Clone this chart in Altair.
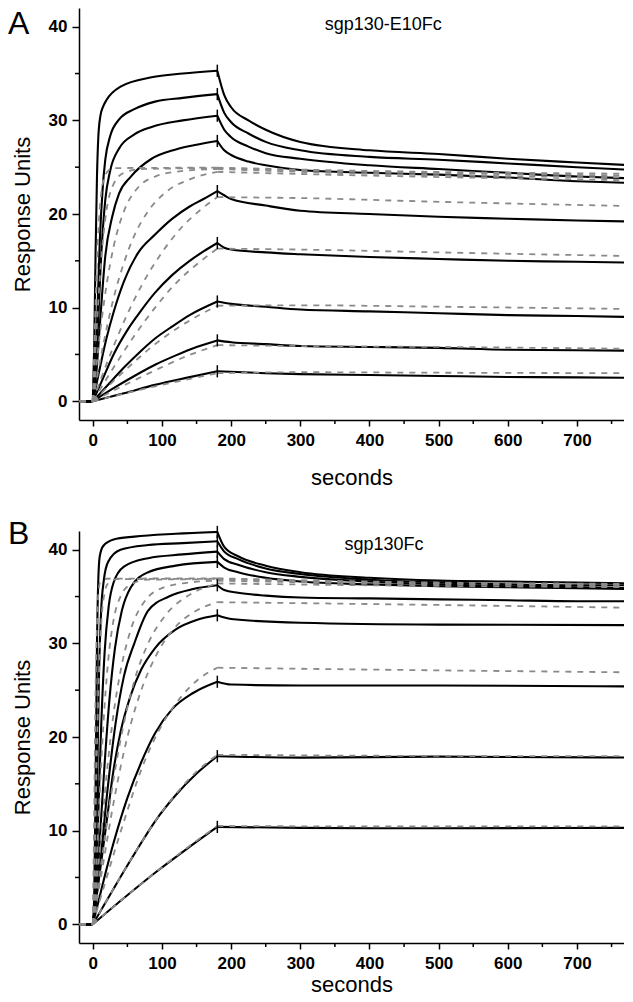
import altair as alt
import pandas as pd

# ---------------- Panel A : sgp130-E10Fc ----------------
A_BLACK_ASSOC = [
    [(-19, 0), (0, 0), (2, 6), (4, 16), (6, 24), (8, 28.3), (11, 30.5), (15, 31.5), (20, 32.2), (40, 33.6), (85, 34.6), (130, 35.0), (180, 35.3)],
    [(-19, 0), (0, 0), (3, 3), (6, 8), (10, 17), (14, 22.5), (18, 25.8), (25, 28.3), (38, 30.1), (60, 31.2), (90, 32.0), (130, 32.4), (180, 32.8)],
    [(-19, 0), (0, 0), (4, 4), (8, 9), (11, 14), (18, 21.5), (25, 24.6), (38, 27.0), (60, 28.5), (85, 29.3), (130, 30.0), (180, 30.5)],
    [(-19, 0), (0, 0), (5, 3), (10, 8), (18, 15.5), (28, 19.7), (38, 22.2), (55, 24.0), (85, 25.9), (120, 26.9), (150, 27.4), (180, 27.8)],
    [(-19, 0), (0, 0), (10, 3.5), (20, 6.8), (30, 9.5), (45, 12.8), (65, 15.8), (90, 17.8), (115, 19.5), (140, 20.8), (160, 21.6), (180, 22.45)],
    [(-19, 0), (0, 0), (15, 2.5), (30, 5.0), (50, 7.6), (65, 9.2), (90, 11.6), (115, 13.5), (140, 15.0), (160, 16.0), (180, 16.9)],
    [(-19, 0), (0, 0), (20, 1.6), (45, 3.6), (70, 5.4), (90, 6.7), (115, 8.0), (140, 9.2), (180, 10.65)],
    [(-19, 0), (0, 0), (30, 1.4), (60, 2.7), (90, 3.9), (120, 4.9), (150, 5.8), (180, 6.5)],
    [(-19, 0), (0, 0), (45, 0.85), (90, 1.75), (135, 2.5), (180, 3.2)],
]
A_BLACK_DISSOC = [
    [(180, 35.3), (190, 32.7), (200, 31.4), (225, 30.0), (250, 29.0), (300, 27.7), (400, 26.8), (500, 26.4), (600, 25.9), (700, 25.5), (780, 25.2)],
    [(180, 32.8), (190, 30.8), (200, 29.8), (225, 28.6), (250, 27.7), (300, 26.8), (400, 26.1), (500, 25.8), (600, 25.4), (700, 25.0), (780, 24.7)],
    [(180, 30.5), (190, 29.0), (200, 28.2), (225, 27.2), (250, 26.5), (300, 25.9), (400, 25.2), (500, 24.8), (600, 24.4), (700, 24.0), (780, 23.8)],
    [(180, 27.8), (190, 26.8), (200, 26.3), (225, 25.6), (250, 25.2), (300, 24.7), (400, 24.4), (500, 24.2), (600, 23.9), (700, 23.5), (780, 23.3)],
    [(180, 22.45), (190, 22.0), (200, 21.6), (250, 20.9), (300, 20.35), (400, 20.0), (500, 19.7), (600, 19.5), (700, 19.3), (780, 19.2)],
    [(180, 16.9), (190, 16.4), (200, 16.2), (250, 15.9), (300, 15.7), (400, 15.4), (500, 15.2), (600, 15.0), (700, 14.9), (780, 14.8)],
    [(180, 10.65), (200, 10.4), (250, 10.1), (300, 9.8), (400, 9.6), (500, 9.4), (600, 9.2), (700, 9.1), (780, 9.0)],
    [(180, 6.5), (200, 6.3), (250, 6.1), (300, 5.9), (400, 5.8), (500, 5.7), (600, 5.5), (700, 5.45), (780, 5.4)],
    [(180, 3.2), (250, 3.0), (300, 2.9), (400, 2.8), (500, 2.7), (600, 2.6), (700, 2.55), (780, 2.5)],
]
A_FIT_ASSOC = [
    [(-19, 0), (0, 0), (3, 8), (6, 15), (10, 20.5), (15, 23.5), (22, 24.6), (30, 24.9), (180, 24.95)],
    [(-19, 0), (0, 0), (5, 7), (10, 13), (15, 17.5), (20, 20.5), (30, 23.2), (45, 24.4), (70, 24.8), (180, 24.9)],
    [(-19, 0), (0, 0), (10, 7), (20, 12.5), (30, 16.5), (45, 20.3), (65, 22.8), (90, 24.0), (130, 24.6), (180, 24.8)],
    [(-19, 0), (0, 0), (15, 6), (30, 11), (45, 14.8), (60, 17.7), (80, 20.3), (105, 22.3), (140, 23.7), (180, 24.5)],
    [(-19, 0), (0, 0), (20, 4), (45, 8.5), (70, 12.3), (100, 15.9), (130, 18.7), (155, 20.4), (180, 21.8)],
    [(-19, 0), (0, 0), (30, 3.6), (60, 7.0), (90, 10.0), (120, 12.6), (150, 14.6), (180, 16.3)],
    [(-19, 0), (0, 0), (45, 3.2), (90, 6.1), (135, 8.4), (180, 10.2)],
    [(-19, 0), (0, 0), (45, 1.7), (90, 3.3), (135, 4.8), (180, 6.0)],
    [(-19, 0), (0, 0), (90, 1.6), (180, 3.0)],
]
A_FIT_DISSOC = [
    [(180, 24.95), (400, 24.6), (780, 24.3)],
    [(180, 24.9), (400, 24.5), (780, 24.1)],
    [(180, 24.8), (400, 24.3), (780, 23.9)],
    [(180, 24.5), (400, 24.1), (780, 23.6)],
    [(180, 21.8), (300, 21.7), (500, 21.3), (780, 20.85)],
    [(180, 16.3), (300, 16.2), (500, 15.9), (780, 15.5)],
    [(180, 10.2), (300, 10.25), (500, 10.1), (780, 9.85)],
    [(180, 6.0), (300, 5.9), (500, 5.8), (780, 5.6)],
    [(180, 3.0), (300, 3.1), (500, 3.05), (780, 3.0)],
]

# ---------------- Panel B : sgp130Fc ----------------
B_BLACK_ASSOC = [
    [(-19, 0), (0, 0), (2, 3), (4, 15), (6, 30), (8, 37), (10, 39.3), (15, 40.4), (30, 41.1), (60, 41.4), (120, 41.7), (180, 41.9)],
    [(-19, 0), (0, 0), (3, 3), (6, 14), (9, 27), (12, 33.5), (16, 36.8), (22, 38.7), (40, 40.0), (80, 40.5), (130, 40.7), (180, 40.9)],
    [(-19, 0), (0, 0), (4, 3), (8, 12), (12, 21), (17, 29), (23, 34), (30, 36.5), (45, 38.2), (80, 39.1), (130, 39.5), (180, 39.8)],
    [(-19, 0), (0, 0), (5, 3), (10, 9), (16, 16), (24, 24), (32, 29.5), (42, 33.5), (55, 36.0), (80, 37.6), (120, 38.3), (180, 38.7)],
    [(-19, 0), (0, 0), (10, 6), (20, 13.5), (33, 21.5), (45, 26.5), (60, 30.0), (80, 33.5), (110, 35.0), (145, 35.8), (180, 36.2)],
    [(-19, 0), (0, 0), (10, 5.5), (20, 11), (30, 16.5), (40, 20.5), (55, 24.5), (70, 27.2), (90, 29.5), (120, 31.5), (150, 32.5), (180, 33.0)],
    [(-19, 0), (0, 0), (15, 4.5), (30, 8.7), (50, 13.5), (70, 17.3), (90, 20.4), (115, 23.0), (145, 24.7), (180, 25.9)],
    [(-19, 0), (0, 0), (30, 3.8), (60, 7.5), (90, 11.0), (120, 13.8), (150, 16.1), (180, 17.95)],
    [(-19, 0), (0, 0), (45, 2.8), (90, 5.5), (135, 8.0), (180, 10.4)],
]
B_BLACK_DISSOC = [
    [(180, 41.9), (190, 40.3), (210, 39.3), (250, 38.3), (300, 37.6), (400, 37.0), (500, 36.7), (600, 36.6), (700, 36.5), (780, 36.4)],
    [(180, 40.9), (190, 39.8), (210, 39.0), (250, 38.0), (300, 37.4), (400, 36.8), (500, 36.5), (600, 36.3), (700, 36.2), (780, 36.2)],
    [(180, 39.8), (190, 39.0), (210, 38.4), (250, 37.6), (300, 37.1), (400, 36.6), (500, 36.3), (600, 36.1), (700, 36.0), (780, 35.9)],
    [(180, 38.7), (190, 38.1), (210, 37.6), (250, 37.0), (300, 36.6), (400, 36.3), (500, 36.1), (600, 36.0), (700, 35.9), (780, 35.8)],
    [(180, 36.2), (190, 35.7), (210, 35.4), (250, 35.1), (300, 34.9), (400, 34.8), (500, 34.7), (600, 34.6), (700, 34.5), (780, 34.5)],
    [(180, 33.0), (200, 32.6), (300, 32.2), (500, 32.0), (780, 31.95)],
    [(180, 25.9), (200, 25.6), (300, 25.5), (500, 25.5), (780, 25.4)],
    [(180, 17.95), (300, 17.8), (500, 17.9), (780, 17.8)],
    [(180, 10.4), (300, 10.3), (500, 10.25), (780, 10.3)],
]
B_FIT_ASSOC = [
    [(-19, 0), (0, 0), (2, 12), (4, 25), (6, 32), (8, 35.3), (11, 36.6), (20, 36.9), (180, 36.95)],
    [(-19, 0), (0, 0), (3, 8), (6, 19), (9, 27), (12, 32), (16, 35), (22, 36.4), (35, 36.85), (180, 36.9)],
    [(-19, 0), (0, 0), (5, 6), (10, 14), (15, 21), (22, 28), (30, 32.5), (40, 35), (55, 36.3), (80, 36.8), (180, 36.85)],
    [(-19, 0), (0, 0), (10, 8), (20, 16), (30, 22.5), (40, 27), (55, 31.5), (75, 34.5), (100, 35.9), (140, 36.5), (180, 36.7)],
    [(-19, 0), (0, 0), (15, 8), (30, 15.5), (45, 21.5), (60, 26), (80, 30), (105, 33), (140, 35.2), (180, 36.4)],
    [(-19, 0), (0, 0), (15, 6.5), (30, 13), (50, 20), (70, 25), (90, 28.5), (120, 31.8), (150, 33.5), (180, 34.4)],
    [(-19, 0), (0, 0), (20, 5), (45, 11), (70, 16.5), (100, 21.3), (130, 24.5), (155, 26.3), (180, 27.4)],
    [(-19, 0), (0, 0), (30, 3.8), (60, 7.5), (90, 11.0), (120, 13.9), (150, 16.3), (180, 18.1)],
    [(-19, 0), (0, 0), (45, 2.8), (90, 5.5), (135, 8.1), (180, 10.5)],
]
B_FIT_DISSOC = [
    [(180, 36.95), (400, 36.6), (780, 36.35)],
    [(180, 36.9), (400, 36.55), (780, 36.3)],
    [(180, 36.85), (400, 36.5), (780, 36.25)],
    [(180, 36.7), (400, 36.4), (780, 36.2)],
    [(180, 36.4), (400, 36.2), (780, 36.0)],
    [(180, 34.4), (400, 34.2), (780, 33.8)],
    [(180, 27.4), (400, 27.2), (780, 26.9)],
    [(180, 18.1), (400, 18.0), (780, 17.95)],
    [(180, 10.5), (400, 10.45), (780, 10.45)],
]

X_TICKS = [0, 100, 200, 300, 400, 500, 600, 700]
X_MINOR = [50, 150, 250, 350, 450, 550, 650, 750]
Y_TICKS = [0, 10, 20, 30, 40]
Y_MINOR = [5, 15, 25, 35]
INJECTION_END = 180

W, H = 545, 412
XDOM = [-20, 768]
YDOM = [-2, 42]
FONT = "Liberation Sans"


def to_frame(curves, tag):
    """Each curve -> baseline piece (t <= 0) and the phase piece (t >= 0),
    so the smooth interpolation keeps the sharp start and the cusp at 180 s."""
    rows = []
    for i, c in enumerate(curves):
        for t, v in c:
            if t <= 0:
                rows.append({"seg": f"{tag}{i}base", "t": t, "v": v})
            if t >= 0:
                rows.append({"seg": f"{tag}{i}", "t": t, "v": v})
    return pd.DataFrame(rows)


def panel(black_a, black_d, fit_a, fit_d, label, label_pos, letter, letter_y, xtitle_pad):
    xenc = alt.X(
        "t:Q",
        scale=alt.Scale(domain=XDOM, nice=False, zero=False),
        axis=alt.Axis(values=X_TICKS, labelFont=FONT, labelFontSize=17, labelFontWeight="bold",
                      labelColor="black", tickSize=6, tickWidth=1.5, tickColor="black",
                      domainColor="black", domainWidth=1.5, labelPadding=6, grid=False,
                      titleFont=FONT, titleFontSize=22, titleFontWeight="normal",
                      titleColor="black", titlePadding=xtitle_pad),
        title="seconds",
    )
    yenc = alt.Y(
        "v:Q",
        scale=alt.Scale(domain=YDOM, nice=False, zero=False),
        axis=alt.Axis(values=Y_TICKS, labelFont=FONT, labelFontSize=17, labelFontWeight="bold",
                      labelColor="black", tickSize=7, tickWidth=1.5, tickColor="black",
                      domainColor="black", domainWidth=1.5, labelPadding=5, grid=False,
                      titleFont=FONT, titleFontSize=22, titleFontWeight="normal",
                      titleColor="black", titlePadding=14),
        title="Response Units",
    )
    black = pd.concat([to_frame(black_a, "a"), to_frame(black_d, "d")], ignore_index=True)
    fit = pd.concat([to_frame(fit_a, "a"), to_frame(fit_d, "d")], ignore_index=True)
    ends = [c[-1][1] for c in black_a]
    spikes = pd.DataFrame({"t": [INJECTION_END] * len(ends),
                           "v": [e - 0.65 for e in ends],
                           "v2": [e + 0.65 for e in ends]})

    l_black = alt.Chart(black).mark_line(color="black", strokeWidth=2.1, interpolate="monotone",
                                         clip=True).encode(x=xenc, y=yenc, detail="seg:N")
    l_fit = alt.Chart(fit).mark_line(color="#8a8a8a", strokeWidth=1.8, strokeDash=[6, 6],
                                     interpolate="monotone", clip=True).encode(
        x=xenc, y=yenc, detail="seg:N")
    l_spk = alt.Chart(spikes).mark_rule(color="black", strokeWidth=1.5).encode(
        x=xenc, y=yenc, y2="v2:Q")
    l_xminor = alt.Chart(pd.DataFrame({"t": X_MINOR})).mark_rule(
        color="black", strokeWidth=1.5).encode(x=xenc, y=alt.value(H), y2=alt.value(H + 4))
    l_yminor = alt.Chart(pd.DataFrame({"v": Y_MINOR})).mark_rule(
        color="black", strokeWidth=1.5).encode(y=yenc, x=alt.value(0), x2=alt.value(-4))
    l_label = alt.Chart(pd.DataFrame({"t": [label_pos[0]], "v": [label_pos[1]], "txt": [label]})).mark_text(
        font=FONT, fontSize=18, color="black", align="center", baseline="middle").encode(
        x=xenc, y=yenc, text="txt:N")
    l_letter = alt.Chart(pd.DataFrame({"txt": [letter]})).mark_text(
        font=FONT, fontSize=32, color="black", align="left", baseline="top").encode(
        x=alt.value(-71), y=alt.value(letter_y), text="txt:N")
    return alt.layer(l_black, l_fit, l_spk, l_xminor, l_yminor, l_label, l_letter).properties(
        width=W, height=H)


pA = panel(A_BLACK_ASSOC, A_BLACK_DISSOC, A_FIT_ASSOC, A_FIT_DISSOC, "sgp130-E10Fc", (420, 40.2), "A", 1, 19)
pB = panel(B_BLACK_ASSOC, B_BLACK_DISSOC, B_FIT_ASSOC, B_FIT_DISSOC, "sgp130Fc", (421, 40.5), "B", -12, 3)

chart = alt.vconcat(pA, pB, spacing=30).properties(padding=0).configure_view(stroke=None)

chart.save("out.html", embed_options={"renderer": "svg", "actions": False})
